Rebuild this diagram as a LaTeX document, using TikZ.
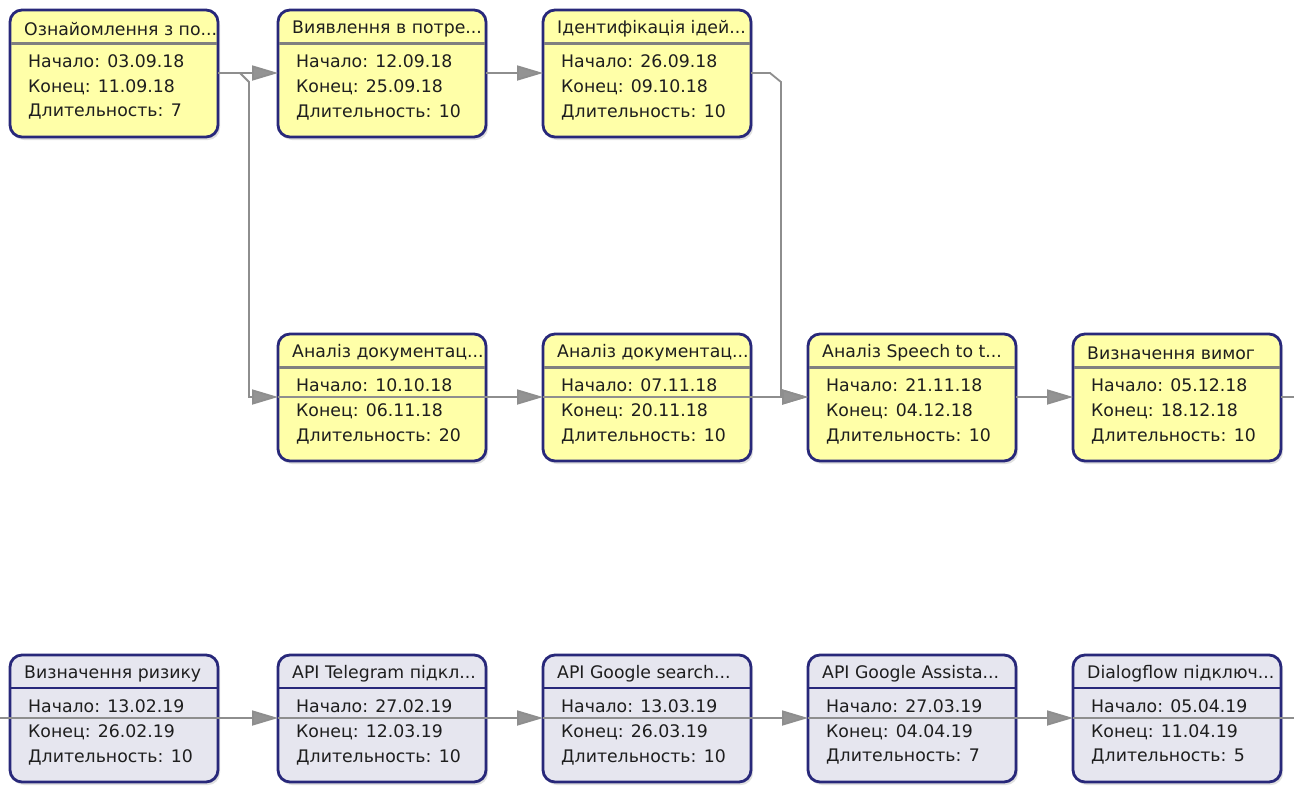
\documentclass[tikz,border=0pt]{standalone}
\usepackage{fontspec}
\setmainfont{DejaVu Sans}
\usetikzlibrary{arrows.meta,calc}

\definecolor{taskyellow}{HTML}{FFFFA8}
\definecolor{tasklilac}{HTML}{E6E6EF}
\definecolor{navy}{HTML}{28287A}
\definecolor{sepgray}{HTML}{808080}
\definecolor{linkgray}{HTML}{8E8E8E}
\definecolor{tiptone}{HTML}{939393}
\definecolor{txt}{HTML}{1E1E1E}

\tikzset{
  taskbox/.style={draw=navy, line width=2.8pt, rounded corners=12pt,
    minimum width=208pt, minimum height=127pt, anchor=north west,
    inner sep=0pt, outer sep=0pt},
  yellowtask/.style={taskbox, fill=taskyellow},
  lilactask/.style={taskbox, fill=tasklilac},
  yellowsep/.style={draw=sepgray, line width=3pt},
  lilacsep/.style={draw=navy, line width=1.6pt},
  boxshadow/.style={fill=black, opacity=0.12, rounded corners=12pt},
  tasktext/.style={anchor=west, inner sep=0pt, text=txt,
    font=\fontsize{17.3}{20}\selectfont},
  conn/.style={draw=linkgray, line width=1.8pt},
  arrowconn/.style={conn, -{Triangle[length=26pt,width=15pt,fill=tiptone]}},
}

% #1 name, #2 x, #3 y (top left), #4 kind, #5 title, #6 start, #7 end, #8 duration
\newcommand\tasknode[8]{%
  \fill[boxshadow] (#2+2,#3+3) rectangle ++(208,127);
  \node[#4task] (#1) at (#2,#3) {};
  \draw[#4sep, shorten <=1.4pt, shorten >=1.4pt]
    ([yshift=-33pt]#1.north west) -- ([yshift=-33pt]#1.north east);
  \node[tasktext] (#1-title) at ($(#1.north west)+(14,19)$) {#5};
  \node[tasktext] (#1-start) at ($(#1.north west)+(18,51)$) {Начало: #6};
  \node[tasktext] (#1-end)   at ($(#1.north west)+(18,77)$) {Конец: #7};
  \node[tasktext] (#1-dur)   at ($(#1.north west)+(18,102)$) {Длительность: #8};
  \coordinate (#1-in)  at ($(#1.north west)+(0,63)$);
  \coordinate (#1-out) at ($(#1.north east)+(0,63)$);
}

\begin{document}
\begin{tikzpicture}[x=1pt, y=-1pt]
  \useasboundingbox (0,0) rectangle (1294,785);
  \fill[white] (0,0) rectangle (1294,785);

  % first row
  \tasknode{t1}{10}{10}{yellow}{Ознайомлення з по...}{03.09.18}{11.09.18}{7}
  \tasknode{t2}{278}{10}{yellow}{Виявлення в потре...}{12.09.18}{25.09.18}{10}
  \tasknode{t3}{543}{10}{yellow}{Ідентифікація ідей...}{26.09.18}{09.10.18}{10}

  % second row
  \tasknode{t4}{278}{334}{yellow}{Аналіз документац...}{10.10.18}{06.11.18}{20}
  \tasknode{t5}{543}{334}{yellow}{Аналіз документац...}{07.11.18}{20.11.18}{10}
  \tasknode{t6}{808}{334}{yellow}{Аналіз Speech to t...}{21.11.18}{04.12.18}{10}
  \tasknode{t7}{1073}{334}{yellow}{Визначення вимог}{05.12.18}{18.12.18}{10}

  % third row
  \tasknode{t8}{10}{655}{lilac}{Визначення ризику}{13.02.19}{26.02.19}{10}
  \tasknode{t9}{278}{655}{lilac}{API Telegram підкл...}{27.02.19}{12.03.19}{10}
  \tasknode{t10}{543}{655}{lilac}{API Google search...}{13.03.19}{26.03.19}{10}
  \tasknode{t11}{808}{655}{lilac}{API Google Assista...}{27.03.19}{04.04.19}{7}
  \tasknode{t12}{1073}{655}{lilac}{Dialogflow підключ...}{05.04.19}{11.04.19}{5}

  % links that continue past the picture edges
  \coordinate (r2) at (1294,397);
  \coordinate (l3) at (0,718);
  \coordinate (r3) at (1294,718);
  \coordinate (j1) at (249,82);
  \coordinate (j2) at (781,82);

  % links running across the boxes
  \foreach \t in {t4,t5,t8,t9,t10,t11,t12}
    \draw[conn] (\t-in) -- (\t-out);

  % first row links
  \draw[arrowconn] (t1-out) -- (t2-in);
  \draw[arrowconn] (t2-out) -- (t3-in);
  \draw[arrowconn] (t1-out) -- ++(22,0) -- (j1) -- (j1 |- t4-in) -- (t4-in);
  \draw[arrowconn] (t3-out) -- ++(19,0) -- (j2) -- (j2 |- t6-in) -- (t6-in);

  % second row links
  \draw[arrowconn] (t4-out) -- (t5-in);
  \draw[arrowconn] (t5-out) -- (t6-in);
  \draw[arrowconn] (t6-out) -- (t7-in);
  \draw[conn] (t7-out) -- (r2);

  % third row links
  \draw[conn] (l3) -- (t8-in);
  \draw[arrowconn] (t8-out) -- (t9-in);
  \draw[arrowconn] (t9-out) -- (t10-in);
  \draw[arrowconn] (t10-out) -- (t11-in);
  \draw[arrowconn] (t11-out) -- (t12-in);
  \draw[conn] (t12-out) -- (r3);
\end{tikzpicture}
\end{document}
